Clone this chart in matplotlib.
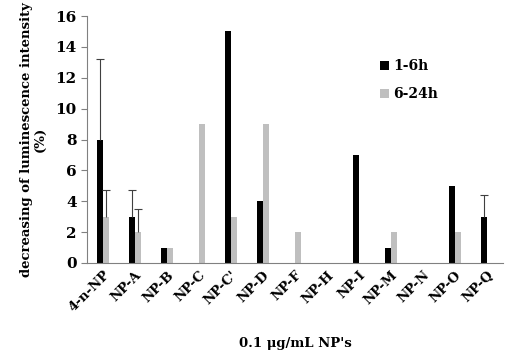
import numpy as np
import matplotlib.pyplot as plt

plt.rcParams['font.family'] = 'DejaVu Serif'

cats = ["4-n-NP", "NP-A", "NP-B", "NP-C", "NP-C'", "NP-D", "NP-F", "NP-H", "NP-I", "NP-M", "NP-N", "NP-O", "NP-Q"]
early = [8, 3, 1, 0, 15, 4, 0, 0, 7, 1, 0, 5, 3]
late = [3, 2, 1, 9, 3, 9, 2, 0, 0, 2, 0, 2, 0]
early_err = [5.2, 1.7, 0, 0, 0, 0, 0, 0, 0, 0, 0, 0, 1.4]
late_err = [1.7, 1.5, 0, 0, 0, 0, 0, 0, 0, 0, 0, 0, 0]

fig = plt.figure(figsize=(5.05, 3.51), dpi=100)
ax = fig.add_axes([87/505, 1-263/351, 416/505, 247/351])

x = np.arange(len(cats))
w = 0.19
ax.bar(x - w/2, early, w, color="black", label="1-6h")
ax.bar(x + w/2, late, w, color="#bfbfbf", label="6-24h")

# only bars that have an error value get a whisker, upper side only
for xs, vals, errs in [(x - w/2, early, early_err), (x + w/2, late, late_err)]:
    errs = np.array(errs)
    m = errs > 0
    eb = ax.errorbar(xs[m], np.array(vals)[m], yerr=[np.zeros(m.sum()), errs[m]], fmt="none",
                     ecolor="#404040", elinewidth=0.8, capsize=3, capthick=0.8)
    eb[1][0].set_visible(False)

ax.set_xlim(-0.5, len(cats) - 0.5)
ax.set_ylim(0, 16)
ax.set_yticks(range(0, 17, 2))
ax.set_xticks(x)
ax.set_xticklabels(cats, rotation=45, ha="right", rotation_mode="anchor", fontsize=9.5)
ax.tick_params(axis="x", length=0, pad=4)
ax.tick_params(axis="y", labelsize=11, length=4, color="#808080")
for lab in ax.get_xticklabels() + ax.get_yticklabels():
    lab.set_fontweight("bold")
for s in ["top", "right"]:
    ax.spines[s].set_visible(False)
for s in ["left", "bottom"]:
    ax.spines[s].set_color("#808080")

ax.set_ylabel("decreasing of luminescence intensity\n(%)", fontsize=9.5, fontweight="bold", linespacing=1.1, labelpad=6)
ax.set_xlabel("0.1 \u03bcg/mL NP's", fontsize=9.5, fontweight="bold", labelpad=16)
ax.legend(loc="upper left", bbox_to_anchor=(0.675, 0.875), frameon=False,
          prop={"size": 10, "weight": "bold"},
          handlelength=0.6, handleheight=0.6, labelspacing=1.0, handletextpad=0.3)

fig.savefig("out.png", dpi=100)
